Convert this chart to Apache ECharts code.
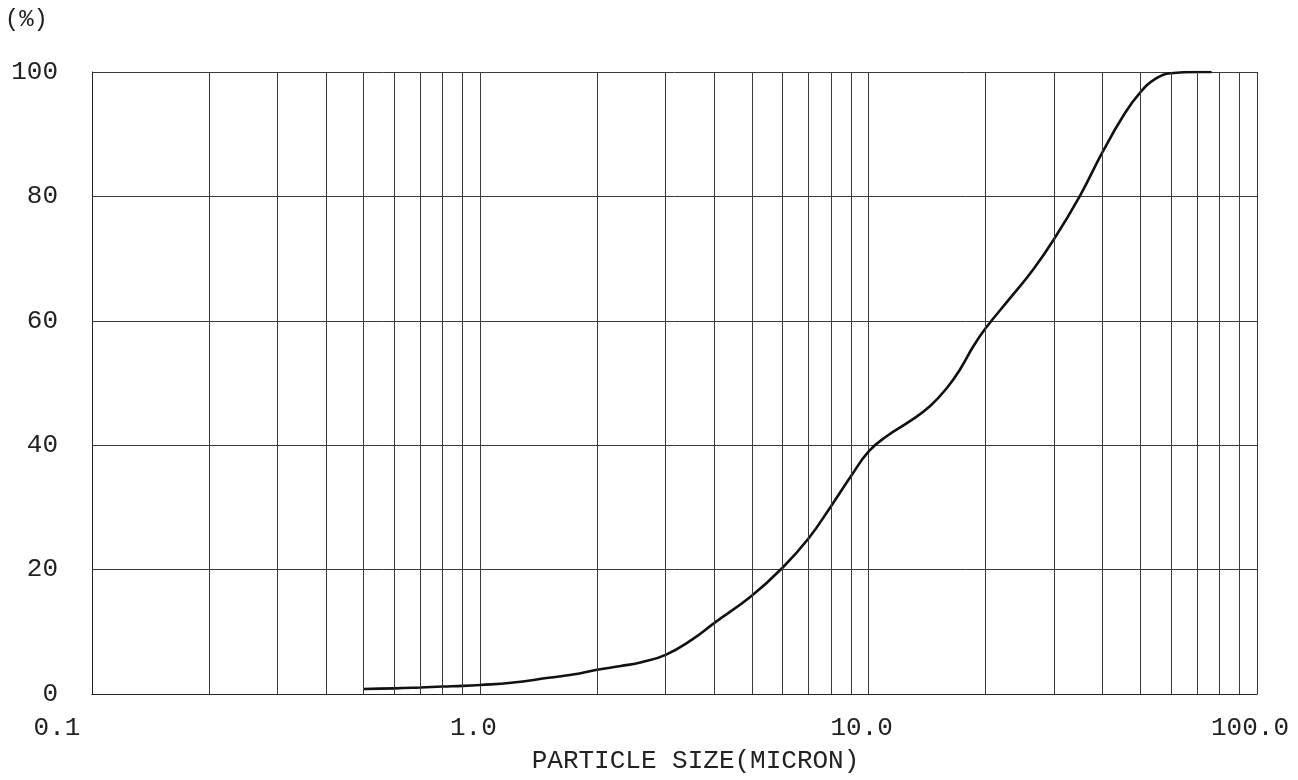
<!DOCTYPE html>
<html>
<head>
<meta charset="utf-8">
<title>Particle size distribution</title>
<script src="https://cdn.jsdelivr.net/npm/echarts@6/dist/echarts.min.js"></script>
<style>
  html, body { margin: 0; padding: 0; background: #fff; }
  #chart { width: 1298px; height: 780px; }
</style>
</head>
<body>
<div id="chart"></div>
<script>
// particle size (micron) and cumulative percent
let sizes = [0.5, 0.6, 0.7, 0.8, 0.9, 1.0, 1.2, 1.5, 1.8, 2.0, 2.3, 2.6, 3.0, 3.5, 4.0, 5.0, 6.0, 7.0, 8.0, 9.0, 10.0,
  11.1, 12.8, 14.4, 15.9, 17.2, 18.6, 20.0, 23.1, 26.5, 30.0, 35.0, 40.0, 45.3, 50.0, 55.1, 60.0, 70.0, 76.4]
let percents = [0.8, 0.9, 1.05, 1.2, 1.3, 1.45, 1.8, 2.6, 3.3, 3.9, 4.5, 5.1, 6.3, 8.7, 11.4, 15.8, 20.3, 25.0, 30.2, 35.0, 39.0,
  41.4, 43.9, 46.3, 49.2, 52.2, 55.9, 58.8, 63.6, 68.2, 73.1, 80.1, 87.1, 93.0, 96.7, 99.0, 99.8, 100, 100]

// minor log grid lines (2..9 of each decade)
let minorGridX = [0.2, 0.3, 0.4, 0.5, 0.6, 0.7, 0.8, 0.9, 2, 3, 4, 5, 6, 7, 8, 9, 20, 30, 40, 50, 60, 70, 80, 90]
let xTickLabels = { 0.1: '0.1', 1: '1.0', 10: '10.0', 100: '100.0' }

let font = 'Liberation Mono, DejaVu Sans Mono, monospace'
let gridColor = '#3a3a3a'
let textColor = '#222'

let chart = echarts.init(document.getElementById('chart'), null, { renderer: 'canvas' })

chart.setOption({
  animation: false,
  backgroundColor: '#fff',
  grid: { left: 92, right: 41, top: 72, bottom: 86, outerBoundsMode: 'none', containLabel: false },
  xAxis: {
    type: 'log',
    logBase: 10,
    min: 0.1,
    max: 100,
    name: 'PARTICLE SIZE(MICRON)',
    nameLocation: 'middle',
    nameGap: 54,
    nameTextStyle: { fontFamily: font, fontSize: 26, color: textColor, padding: [0, 0, 0, 42] },
    axisLine: { show: true, lineStyle: { color: textColor, width: 1 } },
    axisTick: { show: false },
    axisLabel: {
      margin: 21,
      fontFamily: font,
      fontSize: 26,
      color: textColor,
      formatter: (v) => {
        let s = xTickLabels[+v.toPrecision(3)] || ''
        return +v < 0.5 ? `{first|${s}}` : `{rest|${s}}`
      },
      rich: {
        first: { fontFamily: font, fontSize: 26, color: textColor, padding: [0, 70, 0, 0] },
        rest: { fontFamily: font, fontSize: 26, color: textColor, padding: [0, 14, 0, 0] },
      },
    },
    splitLine: { show: true, lineStyle: { color: gridColor, width: 1 } },
  },
  yAxis: {
    type: 'value',
    min: 0,
    max: 100,
    interval: 20,
    name: '(%)',
    nameLocation: 'end',
    nameGap: 52,
    nameTextStyle: {
      fontFamily: font, fontSize: 24, color: textColor,
      align: 'right', verticalAlign: 'middle', padding: [0, 44, 0, 0],
    },
    axisLine: { show: true, lineStyle: { color: textColor, width: 1 } },
    axisTick: { show: false },
    axisLabel: { margin: 34, fontFamily: font, fontSize: 26, color: textColor },
    splitLine: { show: true, lineStyle: { color: gridColor, width: 1 } },
  },
  series: [
    {
      type: 'line',
      data: sizes.map((s, i) => [s, percents[i]]),
      smooth: 0.45,
      symbol: 'none',
      lineStyle: { color: '#111', width: 2.6 },
      markLine: {
        silent: true,
        symbol: 'none',
        label: { show: false },
        lineStyle: { color: gridColor, width: 1, type: 'solid' },
        data: minorGridX.map((x) => ({ xAxis: x })),
      },
    },
  ],
})
</script>
</body>
</html>
